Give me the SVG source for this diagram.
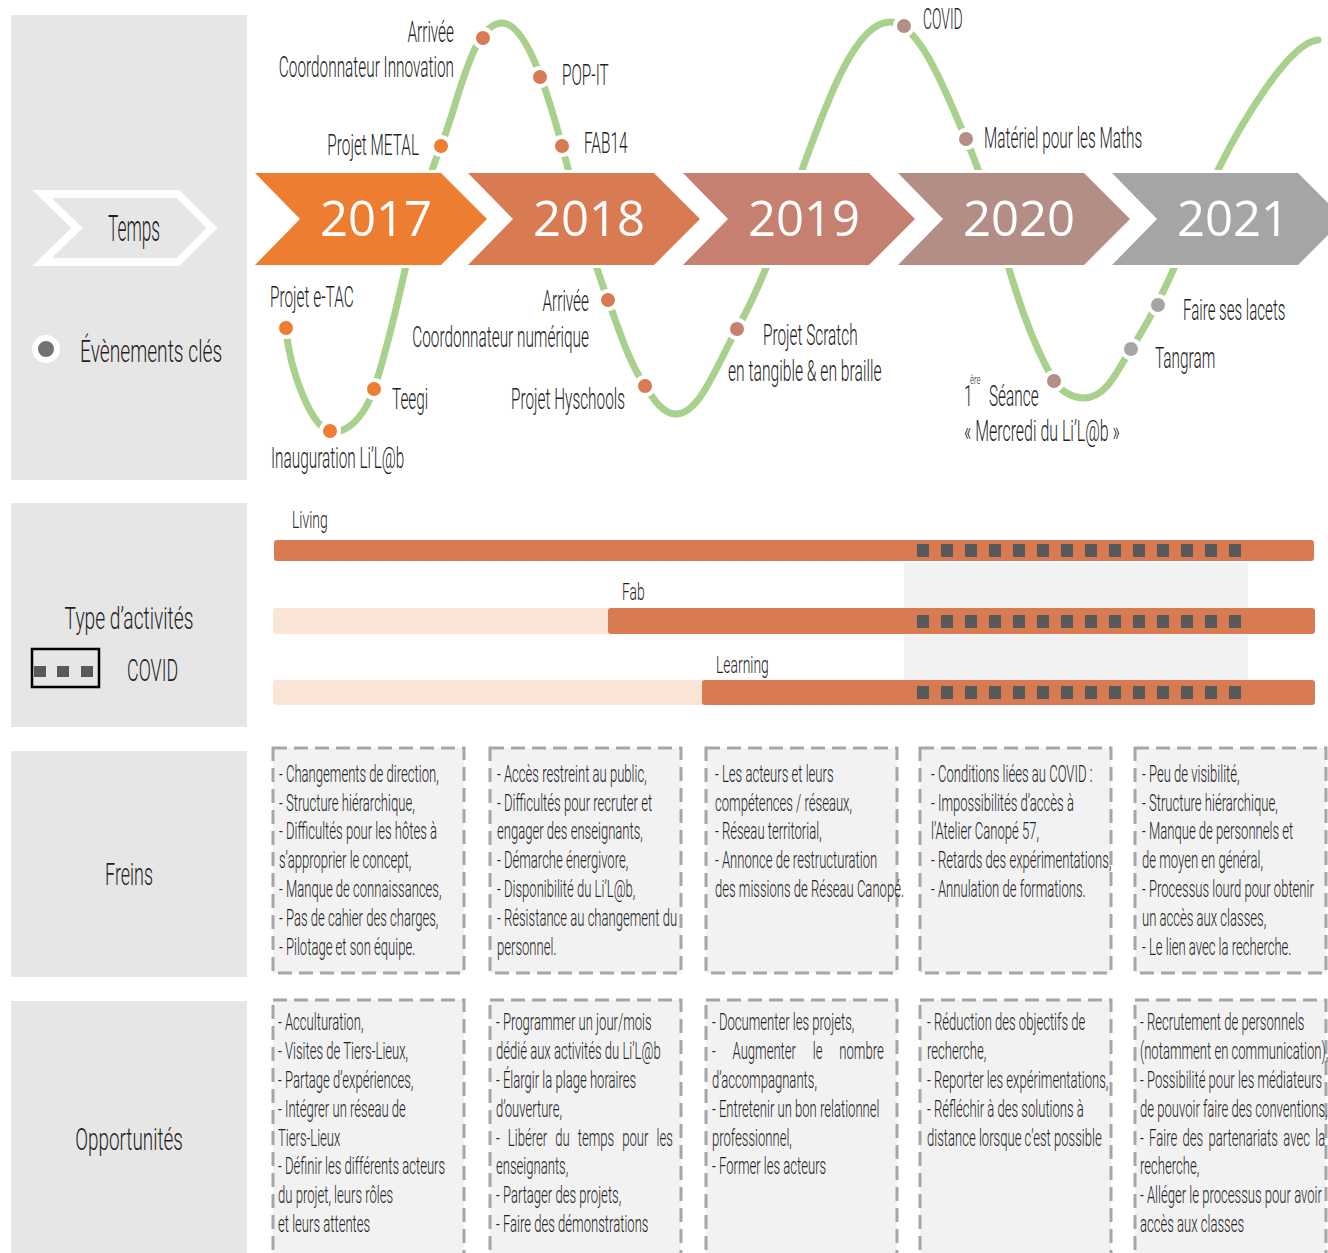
<svg xmlns="http://www.w3.org/2000/svg" width="1328" height="1253" viewBox="0 0 1328 1253">
<defs>
<style>
text{font-family:Roboto,"Liberation Sans",Arial,sans-serif;font-weight:300;fill:#1f1f1f}
.t{font-size:29px}
.b{font-size:24px}
.L{font-size:32px}
.yr{font-family:"Open Sans","Liberation Sans",sans-serif;font-weight:400;font-size:49px;fill:#fff;text-anchor:middle}
.panel{fill:#E7E6E6}
.chev{stroke:#fff;stroke-width:6;paint-order:stroke;stroke-linejoin:miter}
.dot{stroke:#fff;stroke-width:4}
.box{fill:#F2F2F2;stroke:#A6A6A6;stroke-width:3;stroke-dasharray:14 7}
.sq{fill:#595959}
.dark{fill:#D87B53}
.light{fill:#FBE5D6}
</style>
</defs>
<rect width="1328" height="1253" fill="#fff"/>

<g id="legend">
<rect class="panel" x="11" y="15" width="236" height="465"/>
<rect class="panel" x="11" y="503" width="236" height="224"/>
<rect class="panel" x="11" y="751" width="236" height="226"/>
<rect class="panel" x="11" y="1001" width="236" height="252"/>
<polygon points="42,194 178,194 212,228 178,262 42,262 77,228" fill="none" stroke="#fff" stroke-width="8"/>
<text class="L" transform="translate(134,241) scale(.48,1)" text-anchor="middle" style="font-size:36px">Temps</text>
<circle cx="46" cy="349" r="11" fill="#767171" stroke="#fff" stroke-width="6"/>
<text class="L" transform="translate(80,362) scale(.6,1)">Évènements clés</text>
<text class="L" transform="translate(129,629) scale(.6,1)" text-anchor="middle">Type d’activités</text>
<rect x="32" y="649" width="67" height="38" fill="none" stroke="#000" stroke-width="2.5"/>
<rect class="sq" x="34" y="666" width="12" height="11"/>
<rect class="sq" x="57" y="666" width="12" height="11"/>
<rect class="sq" x="81" y="666" width="12" height="11"/>
<text class="L" transform="translate(127,681) scale(.56,1)">COVID</text>
<text class="L" transform="translate(129,885) scale(.56,1)" text-anchor="middle">Freins</text>
<text class="L" transform="translate(129,1150) scale(.59,1)" text-anchor="middle">Opportunités</text>
</g>

<g id="connectors">
<path d="M286,330 C290,370 312,432 333,432 C353,432 367.6,408 374,389 C400.9,309.2 409.4,223.9 441,146 C458.3,103.4 472,23 502,23 C528,23 550,101.4 562,146 C576,198.4 589.1,249.2 608,300 C618.9,329.1 628,360.3 645,386 C652.7,397.6 662,414 676,414 C700,414 717,364 737,329 C764.9,279.4 782.6,223.6 802,170 C825.8,104.2 855,22 890,22 C920,22 947.6,96.7 966,139 C1000.4,218.1 1011,306.2 1054,381 C1059.5,390.6 1073,398 1084,398 C1107,398 1118.4,368.1 1131,349 C1167.3,294.2 1189,229.4 1218,170 C1242.2,120.5 1290,42 1318,40" fill="none" stroke="#A9D18E" stroke-width="7" stroke-linecap="round"/>
</g>

<g id="y2017"><polygon class="chev" fill="#ED7D31" points="255,173 441,173 487,219 441,265 255,265 300,219"/><text class="yr" x="376" y="236">2017</text></g>
<g id="y2018"><polygon class="chev" fill="#D87B53" points="468,173 654,173 700,219 654,265 468,265 513,219"/><text class="yr" x="589" y="236">2018</text></g>
<g id="y2019"><polygon class="chev" fill="#C58070" points="683,173 869,173 915,219 869,265 683,265 728,219"/><text class="yr" x="804" y="236">2019</text></g>
<g id="y2020"><polygon class="chev" fill="#B38E87" points="898,173 1084,173 1130,219 1084,265 898,265 943,219"/><text class="yr" x="1019" y="236">2020</text></g>
<g id="y2021"><polygon class="chev" fill="#A5A5A5" points="1112,173 1298,173 1344,219 1298,265 1112,265 1157,219"/><text class="yr" x="1233" y="236">2021</text></g>

<g id="events">
<g id="e-etac"><circle class="dot" cx="286" cy="328" r="9" fill="#ED7D31"/><text class="t" transform="translate(270,307) scale(.53,1)">Projet e-TAC</text></g>
<g id="e-inaug"><circle class="dot" cx="330" cy="431" r="9" fill="#ED7D31"/><text class="t" transform="translate(271,468) scale(.53,1)">Inauguration Li’L@b</text></g>
<g id="e-teegi"><circle class="dot" cx="374" cy="389" r="9" fill="#ED7D31"/><text class="t" transform="translate(392,409) scale(.53,1)">Teegi</text></g>
<g id="e-metal"><circle class="dot" cx="441" cy="146" r="9" fill="#ED7D31"/><text class="t" transform="translate(419,155) scale(.53,1)" text-anchor="end">Projet METAL</text></g>
<g id="e-coordinno"><circle class="dot" cx="483" cy="38" r="9" fill="#D87B53"/><text class="t" transform="translate(454,42) scale(.53,1)" text-anchor="end">Arrivée</text><text class="t" transform="translate(454,77) scale(.53,1)" text-anchor="end">Coordonnateur Innovation</text></g>
<g id="e-popit"><circle class="dot" cx="540" cy="77" r="9" fill="#D87B53"/><text class="t" transform="translate(562,85) scale(.53,1)">POP-IT</text></g>
<g id="e-fab14"><circle class="dot" cx="562" cy="146" r="9" fill="#D87B53"/><text class="t" transform="translate(584,153) scale(.53,1)">FAB14</text></g>
<g id="e-coordnum"><circle class="dot" cx="608" cy="300" r="9" fill="#D87B53"/><text class="t" transform="translate(589,311) scale(.53,1)" text-anchor="end">Arrivée</text><text class="t" transform="translate(589,347) scale(.53,1)" text-anchor="end">Coordonnateur numérique</text></g>
<g id="e-hyschools"><circle class="dot" cx="645" cy="386" r="9" fill="#D87B53"/><text class="t" transform="translate(625,409) scale(.53,1)" text-anchor="end">Projet Hyschools</text></g>
<g id="e-scratch"><circle class="dot" cx="737" cy="329" r="9" fill="#C58070"/><text class="t" transform="translate(763,345) scale(.53,1)">Projet Scratch</text><text class="t" transform="translate(728,381) scale(.54,1)">en tangible &amp; en braille</text></g>
<g id="e-covid"><circle class="dot" cx="904" cy="26" r="9" fill="#B38E87"/><text class="t" transform="translate(923,29) scale(.48,1)">COVID</text></g>
<g id="e-maths"><circle class="dot" cx="966" cy="139" r="9" fill="#B38E87"/><text class="t" transform="translate(984,148) scale(.53,1)">Matériel pour les Maths</text></g>
<g id="e-seance"><circle class="dot" cx="1054" cy="381" r="9" fill="#B38E87"/><text class="t" transform="translate(964,406) scale(.53,1)">1</text><text transform="translate(970,384) scale(.6,1)" style="font-size:13px">ère</text><text class="t" transform="translate(989,406) scale(.53,1)">Séance</text><text class="t" transform="translate(964,441) scale(.55,1)">« Mercredi du Li’L@b »</text></g>
<g id="e-lacets"><circle class="dot" cx="1158" cy="305" r="9" fill="#A5A5A5"/><text class="t" transform="translate(1183,320) scale(.52,1)">Faire ses lacets</text></g>
<g id="e-tangram"><circle class="dot" cx="1131" cy="349" r="9" fill="#A5A5A5"/><text class="t" transform="translate(1155,368) scale(.53,1)">Tangram</text></g>
</g>

<g id="activities">
<rect x="904" y="563" width="344" height="117" fill="#F2F2F2"/>
<g id="act-living">
<rect class="dark" x="274" y="540" width="1040" height="21" rx="3"/>
<text class="b" transform="translate(292,528) scale(.58,1)">Living</text>
</g>
<g id="act-fab">
<rect class="light" x="273" y="608" width="345" height="26" rx="3"/>
<rect class="dark" x="608" y="608" width="707" height="26" rx="3"/>
<text class="b" transform="translate(622,600) scale(.58,1)">Fab</text>
</g>
<g id="act-learning">
<rect class="light" x="273" y="680" width="440" height="25" rx="3"/>
<rect class="dark" x="702" y="680" width="613" height="25" rx="3"/>
<text class="b" transform="translate(716,673) scale(.58,1)">Learning</text>
</g>
<g id="covid-marks">
<g class="sq">
<rect x="917" y="544" width="12" height="13"/><rect x="941" y="544" width="12" height="13"/><rect x="965" y="544" width="12" height="13"/><rect x="989" y="544" width="12" height="13"/><rect x="1013" y="544" width="12" height="13"/><rect x="1037" y="544" width="12" height="13"/><rect x="1061" y="544" width="12" height="13"/><rect x="1085" y="544" width="12" height="13"/><rect x="1109" y="544" width="12" height="13"/><rect x="1133" y="544" width="12" height="13"/><rect x="1157" y="544" width="12" height="13"/><rect x="1181" y="544" width="12" height="13"/><rect x="1205" y="544" width="12" height="13"/><rect x="1229" y="544" width="12" height="13"/>
<rect x="917" y="615" width="12" height="13"/><rect x="941" y="615" width="12" height="13"/><rect x="965" y="615" width="12" height="13"/><rect x="989" y="615" width="12" height="13"/><rect x="1013" y="615" width="12" height="13"/><rect x="1037" y="615" width="12" height="13"/><rect x="1061" y="615" width="12" height="13"/><rect x="1085" y="615" width="12" height="13"/><rect x="1109" y="615" width="12" height="13"/><rect x="1133" y="615" width="12" height="13"/><rect x="1157" y="615" width="12" height="13"/><rect x="1181" y="615" width="12" height="13"/><rect x="1205" y="615" width="12" height="13"/><rect x="1229" y="615" width="12" height="13"/>
<rect x="917" y="686" width="12" height="13"/><rect x="941" y="686" width="12" height="13"/><rect x="965" y="686" width="12" height="13"/><rect x="989" y="686" width="12" height="13"/><rect x="1013" y="686" width="12" height="13"/><rect x="1037" y="686" width="12" height="13"/><rect x="1061" y="686" width="12" height="13"/><rect x="1085" y="686" width="12" height="13"/><rect x="1109" y="686" width="12" height="13"/><rect x="1133" y="686" width="12" height="13"/><rect x="1157" y="686" width="12" height="13"/><rect x="1181" y="686" width="12" height="13"/><rect x="1205" y="686" width="12" height="13"/><rect x="1229" y="686" width="12" height="13"/>
</g>
</g>
</g>

<g id="freins">
<g id="f2017"><rect class="box" x="273" y="748" width="191" height="225"/>
<text class="b" transform="translate(279,0) scale(.545,1)"><tspan x="0" y="782">- Changements de direction,</tspan><tspan x="0" y="811">- Structure hiérarchique,</tspan><tspan x="0" y="839">- Difficultés pour les hôtes à</tspan><tspan x="0" y="868">s’approprier le concept,</tspan><tspan x="0" y="897">- Manque de connaissances,</tspan><tspan x="0" y="926">- Pas de cahier des charges,</tspan><tspan x="0" y="955">- Pilotage et son équipe.</tspan></text></g>
<g id="f2018"><rect class="box" x="490" y="748" width="191" height="225"/>
<text class="b" transform="translate(497,0) scale(.545,1)"><tspan x="0" y="782">- Accès restreint au public,</tspan><tspan x="0" y="811">- Difficultés pour recruter et</tspan><tspan x="0" y="839">engager des enseignants,</tspan><tspan x="0" y="868">- Démarche énergivore,</tspan><tspan x="0" y="897">- Disponibilité du Li’L@b,</tspan><tspan x="0" y="926">- Résistance au changement du</tspan><tspan x="0" y="955">personnel.</tspan></text></g>
<g id="f2019"><rect class="box" x="706" y="748" width="191" height="225"/>
<text class="b" transform="translate(715,0) scale(.545,1)"><tspan x="0" y="782">- Les acteurs et leurs</tspan><tspan x="0" y="811">compétences / réseaux,</tspan><tspan x="0" y="839">- Réseau territorial,</tspan><tspan x="0" y="868">- Annonce de restructuration</tspan><tspan x="0" y="897">des missions de Réseau Canopé.</tspan></text></g>
<g id="f2020"><rect class="box" x="920" y="748" width="191" height="225"/>
<text class="b" transform="translate(931,0) scale(.545,1)"><tspan x="0" y="782">- Conditions liées au COVID :</tspan><tspan x="0" y="811">- Impossibilités d’accès à</tspan><tspan x="0" y="839">l’Atelier Canopé 57,</tspan><tspan x="0" y="868">- Retards des expérimentations,</tspan><tspan x="0" y="897">- Annulation de formations.</tspan></text></g>
<g id="f2021"><rect class="box" x="1135" y="748" width="191" height="225"/>
<text class="b" transform="translate(1142,0) scale(.545,1)"><tspan x="0" y="782">- Peu de visibilité,</tspan><tspan x="0" y="811">- Structure hiérarchique,</tspan><tspan x="0" y="839">- Manque de personnels et</tspan><tspan x="0" y="868">de moyen en général,</tspan><tspan x="0" y="897">- Processus lourd pour obtenir</tspan><tspan x="0" y="926">un accès aux classes,</tspan><tspan x="0" y="955">- Le lien avec la recherche.</tspan></text></g>
</g>

<g id="opportunites">
<g id="o2017"><rect class="box" x="273" y="1000" width="191" height="270"/>
<text class="b" transform="translate(278,0) scale(.545,1)"><tspan x="0" y="1030">- Acculturation,</tspan><tspan x="0" y="1059">- Visites de Tiers-Lieux,</tspan><tspan x="0" y="1088">- Partage d’expériences,</tspan><tspan x="0" y="1117">- Intégrer un réseau de</tspan><tspan x="0" y="1146">Tiers-Lieux</tspan><tspan x="0" y="1174">- Définir les différents acteurs</tspan><tspan x="0" y="1203">du projet, leurs rôles</tspan><tspan x="0" y="1232">et leurs attentes</tspan></text></g>
<g id="o2018"><rect class="box" x="490" y="1000" width="191" height="270"/>
<text class="b" transform="translate(496,0) scale(.545,1)"><tspan x="0" y="1030">- Programmer un jour/mois</tspan><tspan x="0" y="1059">dédié aux activités du Li’L@b</tspan><tspan x="0" y="1088">- Élargir la plage horaires</tspan><tspan x="0" y="1117">d’ouverture,</tspan><tspan x="0" y="1146" word-spacing="9">- Libérer du temps pour les</tspan><tspan x="0" y="1174">enseignants,</tspan><tspan x="0" y="1203">- Partager des projets,</tspan><tspan x="0" y="1232">- Faire des démonstrations</tspan></text></g>
<g id="o2019"><rect class="box" x="706" y="1000" width="191" height="270"/>
<text class="b" transform="translate(712,0) scale(.545,1)"><tspan x="0" y="1030">- Documenter les projets,</tspan><tspan x="0" y="1059" word-spacing="25">- Augmenter le nombre</tspan><tspan x="0" y="1088">d’accompagnants,</tspan><tspan x="0" y="1117">- Entretenir un bon relationnel</tspan><tspan x="0" y="1146">professionnel,</tspan><tspan x="0" y="1174">- Former les acteurs</tspan></text></g>
<g id="o2020"><rect class="box" x="920" y="1000" width="191" height="270"/>
<text class="b" transform="translate(927,0) scale(.545,1)"><tspan x="0" y="1030">- Réduction des objectifs de</tspan><tspan x="0" y="1059">recherche,</tspan><tspan x="0" y="1088">- Reporter les expérimentations,</tspan><tspan x="0" y="1117">- Réfléchir à des solutions à</tspan><tspan x="0" y="1146">distance lorsque c’est possible</tspan></text></g>
<g id="o2021"><rect class="box" x="1135" y="1000" width="191" height="270"/>
<text class="b" transform="translate(1140,0) scale(.545,1)"><tspan x="0" y="1030">- Recrutement de personnels</tspan><tspan x="0" y="1059">(notamment en communication),</tspan><tspan x="0" y="1088">- Possibilité pour les médiateurs</tspan><tspan x="0" y="1117">de pouvoir faire des conventions,</tspan><tspan x="0" y="1146" word-spacing="4">- Faire des partenariats avec la</tspan><tspan x="0" y="1174">recherche,</tspan><tspan x="0" y="1203">- Alléger le processus pour avoir</tspan><tspan x="0" y="1232">accès aux classes</tspan></text></g>
</g>
</svg>
